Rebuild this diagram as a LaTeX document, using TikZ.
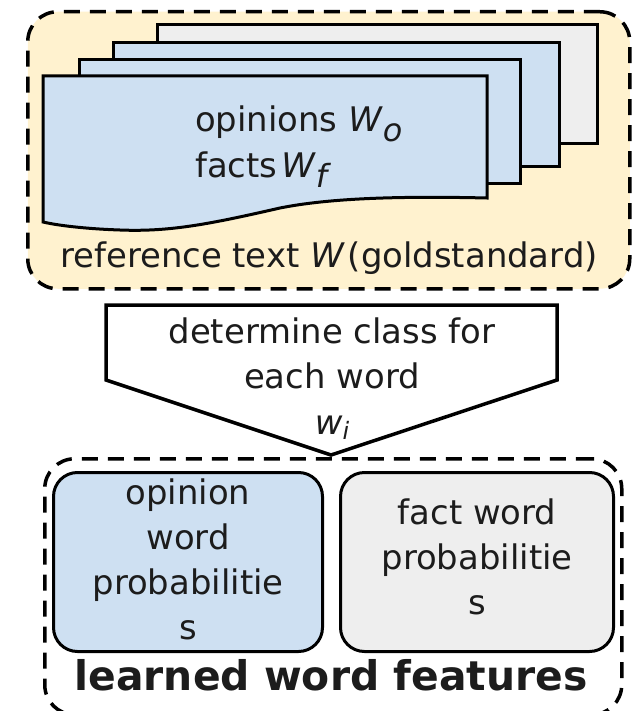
\documentclass[tikz,border=0pt]{standalone}
\usepackage{fontspec}
\setmainfont{DejaVu Sans}
\definecolor{notefill}{RGB}{255,242,207}
\definecolor{pageblue}{RGB}{206,224,242}
\definecolor{pagegray}{RGB}{238,238,238}
\definecolor{ink}{RGB}{28,28,28}
% lowered, nearly full-size italic index
\newcommand{\lowidx}[3]{\raisebox{-#1bp}{\fontsize{#2}{#2}\selectfont\itshape #3}}
\tikzset{
  groupbox/.style={draw=black, line width=3.5bp, dash pattern=on 16bp off 10bp,
    rounded corners=30bp, inner sep=0pt, anchor=north west},
  sheet/.style={draw=black, line width=3bp, fill=pageblue, line join=miter},
  probbox/.style={draw=black, line width=3bp, rounded corners=24bp, align=center,
    inner sep=0pt, text=ink, anchor=north west, minimum height=179bp},
  plain/.style={text=ink, inner sep=0pt},
  arrowbox/.style={draw=black, line width=3.5bp, fill=white, line join=miter},
}
\begin{document}
\begin{tikzpicture}[x=1bp, y=-1bp, font=\fontsize{34}{45}\selectfont]
\useasboundingbox (0,0) rectangle (632,711);

% gold standard group
\node[groupbox, fill=notefill, minimum width=602bp, minimum height=277bp] (gold) at (26,10) {};

% stack of sheets, back to front
\draw[sheet, fill=pagegray] (157,25) rectangle (597,143);
\draw[sheet] (113,43) rectangle (559,166);
\draw[sheet] (79,60) rectangle (520,183);
\draw[sheet] (43,76) -- (487,76) -- (487,198)
  .. controls (400,196) and (330,198) .. (280,208)
  .. controls (210,224) and (170,232) .. (120,230)
  .. controls (90,229) and (60,226) .. (43,222) -- cycle;

\node[plain, anchor=base west] (opinions) at (195,132) {opinions \textit{W}\lowidx{10}{32}{o}};
\node[plain, anchor=base west] (facts) at (195,177) {facts\hspace{4bp}\textit{W}\lowidx{10}{32}{f}};
\node[plain, anchor=base] (goldlabel) at (329,267) {reference text \textit{W}\hspace{3bp}(goldstandard)};

% classification step
\draw[arrowbox] (106,305) -- (557,305) -- (557,380) -- (331,455) -- (106,380) -- cycle;
\node[plain, align=center, font=\fontsize{34}{46}\selectfont] (classify) at (332,378.6)
  {determine class for\\each word\\\textit{w}\lowidx{5}{24}{i}};

% learned features group
\node[groupbox, minimum width=577bp, minimum height=256bp] (learned) at (43,457) {};
\node[probbox, fill=pageblue, minimum width=269bp, text depth=6bp] (opbox) at (52,471)
  {opinion\\word\\probabilitie\\s};
\node[probbox, fill=pagegray, minimum width=273bp, text depth=11bp] (factbox) at (339,471)
  {fact word\\probabilitie\\s};
\node[plain, anchor=base, font=\fontsize{41}{45}\selectfont\bfseries] (learnedlabel) at (331,690)
  {learned word features};
\end{tikzpicture}
\end{document}
